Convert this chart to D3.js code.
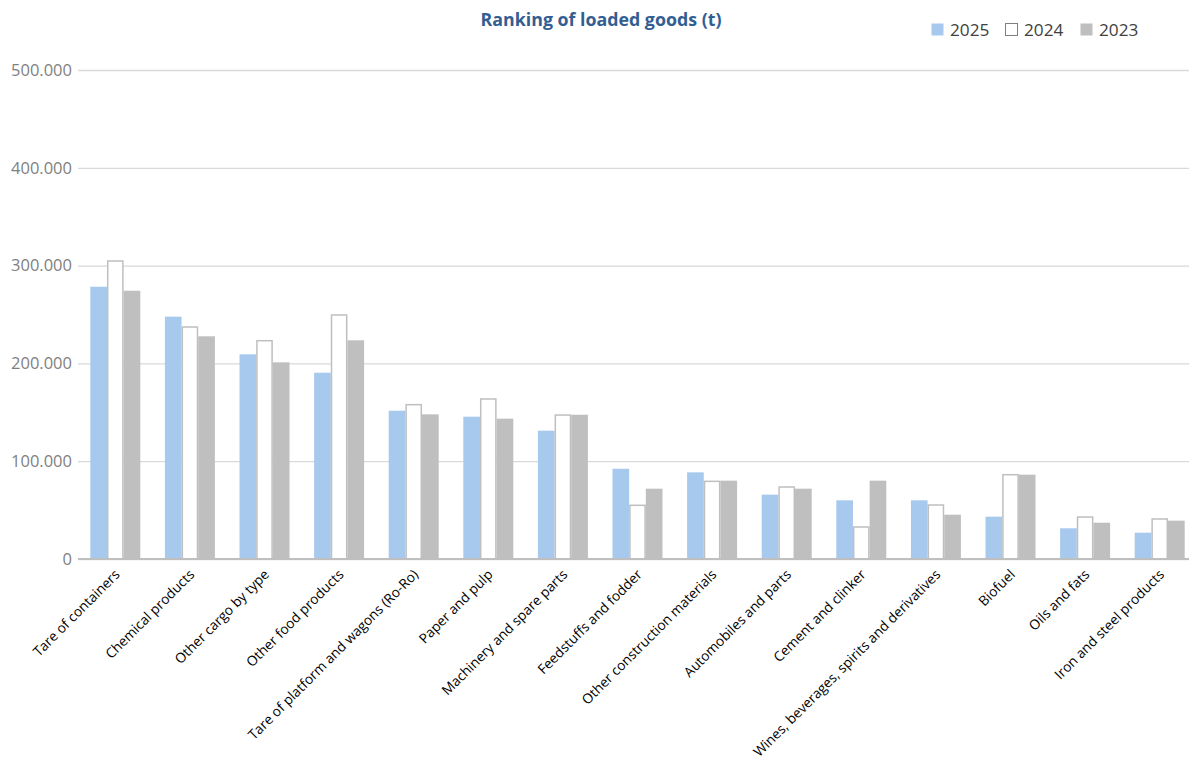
<!DOCTYPE html>
<html><head><meta charset="utf-8">
<script src="https://cdn.jsdelivr.net/npm/d3@7"></script>
<style>
html,body{margin:0;padding:0;background:#fff;}
svg{display:block;font-family:"Open Sans",sans-serif;}
</style></head>
<body><svg id="chart" width="1189" height="764"></svg>
<script>
const categories = ["Tare of containers","Chemical products","Other cargo by type","Other food products","Tare of platform and wagons (Ro-Ro)","Paper and pulp","Machinery and spare parts","Feedstuffs and fodder","Other construction materials","Automobiles and parts","Cement and clinker","Wines, beverages, spirits and derivatives","Biofuel","Oils and fats","Iron and steel products"];
const seriesNames = ["2025","2024","2023"];
const values2025 = [278400,247800,209300,190500,151600,145500,131200,92300,88600,65800,60000,60000,43300,31400,26900];
const values2024 = [304700,237200,223200,249500,157800,163600,147200,54900,79400,73600,32700,55200,86200,42900,40900];
const values2023 = [274300,227700,201100,223600,147900,143500,147500,71900,80100,71900,80100,45300,86200,37100,39200];
const yTicks = [0,100000,200000,300000,400000,500000];
const title = "Ranking of loaded goods (t)";

const seriesValues = [values2025, values2024, values2023];
const fills = ["#a7c9ee", "#ffffff", "#bfbfbf"];
const strokes = ["none", "#bfbfbf", "none"];

const svg = d3.select("#chart");
const mLeft = 78, mRight = 1197, mTop = 70, mBottom = 559;

const x = d3.scaleBand().domain(categories).range([mLeft, mRight]).paddingInner(0.33).paddingOuter(0.165);
const xs = d3.scaleBand().domain(seriesNames).range([0, x.bandwidth()]);
const y = d3.scaleLinear().domain([0, 500000]).range([mBottom, mTop]);

const loc = d3.formatLocale({decimal:",", thousands:".", grouping:[3], currency:["",""]});
const fmt = loc.format(",");

// gridlines + y labels
const yAxis = d3.axisLeft(y).tickValues(yTicks).tickFormat(fmt).tickSize(-(mRight-mLeft)).tickPadding(6);
const ga = svg.append("g").attr("transform", `translate(${mLeft},0)`).call(yAxis);
ga.select(".domain").remove();
ga.selectAll(".tick line").attr("stroke", "#d9d9d9").attr("stroke-width", 1.3);
ga.selectAll(".tick text").attr("fill", "#7f7f7f").attr("font-size", 16.5).attr("x", -6).attr("font-family","Open Sans");

// bars
const groups = svg.append("g").selectAll("g").data(categories).join("g")
  .attr("transform", d => `translate(${x(d)},0)`);
seriesNames.forEach((s, si) => {
  groups.append("rect")
    .attr("x", xs(s) + (si===1 ? 0.75 : 0))
    .attr("width", xs.bandwidth() - (si===1 ? 1.5 : 0))
    .attr("y", (d, i) => y(seriesValues[si][i]))
    .attr("height", (d, i) => mBottom - y(seriesValues[si][i]))
    .attr("fill", fills[si])
    .attr("stroke", strokes[si])
    .attr("stroke-width", 1.5);
});

// baseline
svg.append("line").attr("x1", mLeft).attr("x2", mRight).attr("y1", mBottom).attr("y2", mBottom)
  .attr("stroke", "#bfbfbf").attr("stroke-width", 2);

// x labels
svg.append("g").selectAll("text").data(categories).join("text")
  .attr("transform", d => `translate(${x(d) + x.bandwidth()/2 + 2},${mBottom + 13}) rotate(-45)`)
  .attr("text-anchor", "end")
  .attr("dy", "0.35em")
  .attr("font-size", 13.7)
  .attr("fill", "#000")
  .text(d => d);

// title
svg.append("text").attr("x", 601).attr("y", 26).attr("text-anchor", "middle")
  .attr("font-size", 17.8).attr("font-weight", "bold").attr("fill", "#335e92").text(title);

// legend
const legendX = [931, 1005, 1080];
const lg = svg.append("g").selectAll("g").data(seriesNames).join("g")
  .attr("transform", (d, i) => `translate(${legendX[i]},23)`);
lg.append("rect").attr("x", 0.5).attr("y", 0.5).attr("width", 12).attr("height", 12)
  .attr("fill", (d, i) => fills[i]).attr("stroke", (d, i) => i===1 ? "#7f7f7f" : "none");
lg.append("text").attr("x", 19).attr("y", 13).attr("font-size", 17.2).attr("fill", "#404040").text(d => d);
</script></body></html>
